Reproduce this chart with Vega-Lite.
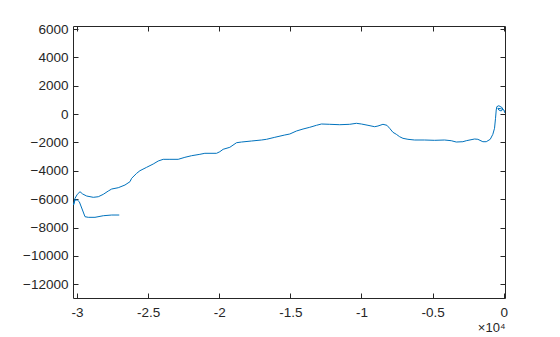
{
  "$schema": "https://vega.github.io/schema/vega-lite/v6.json",
  "width": 432,
  "height": 272,
  "autosize": {"type": "none"},
  "padding": {"left": 73, "top": 26, "right": 55, "bottom": 39},
  "background": "white",
  "config": {
    "view": {"stroke": "#262626", "strokeWidth": 1},
    "axis": {
      "domain": false,
      "grid": false,
      "ticks": true,
      "tickColor": "#262626",
      "tickSize": 5,
      "tickWidth": 1,
      "offset": -5,
      "zindex": 1,
      "labelColor": "#262626",
      "labelFont": "Liberation Sans",
      "labelFontSize": 13.5,
      "titleFont": "Liberation Sans",
      "titleColor": "#262626",
      "titleFontWeight": "normal"
    }
  },
  "data": {"values": [
    {"i": 1, "x": -27028, "y": -7115},
    {"i": 2, "x": -27561, "y": -7115},
    {"i": 3, "x": -28151, "y": -7165},
    {"i": 4, "x": -28734, "y": -7278},
    {"i": 5, "x": -29205, "y": -7278},
    {"i": 6, "x": -29436, "y": -7235},
    {"i": 7, "x": -29668, "y": -6622},
    {"i": 8, "x": -29837, "y": -6178},
    {"i": 9, "x": -29977, "y": -6058},
    {"i": 10, "x": -30138, "y": -6058},
    {"i": 11, "x": -30244, "y": -6410},
    {"i": 12, "x": -30138, "y": -5938},
    {"i": 13, "x": -29977, "y": -5656},
    {"i": 14, "x": -29787, "y": -5472},
    {"i": 15, "x": -29598, "y": -5635},
    {"i": 16, "x": -29317, "y": -5776},
    {"i": 17, "x": -28854, "y": -5867},
    {"i": 18, "x": -28502, "y": -5825},
    {"i": 19, "x": -28151, "y": -5656},
    {"i": 20, "x": -27800, "y": -5423},
    {"i": 21, "x": -27561, "y": -5282},
    {"i": 22, "x": -27098, "y": -5190},
    {"i": 23, "x": -26627, "y": -5000},
    {"i": 24, "x": -26276, "y": -4767},
    {"i": 25, "x": -26157, "y": -4527},
    {"i": 26, "x": -25806, "y": -4175},
    {"i": 27, "x": -25574, "y": -3991},
    {"i": 28, "x": -25104, "y": -3752},
    {"i": 29, "x": -24640, "y": -3519},
    {"i": 30, "x": -24289, "y": -3307},
    {"i": 31, "x": -23938, "y": -3188},
    {"i": 32, "x": -23468, "y": -3188},
    {"i": 33, "x": -22885, "y": -3188},
    {"i": 34, "x": -22414, "y": -3047},
    {"i": 35, "x": -21944, "y": -2934},
    {"i": 36, "x": -21361, "y": -2835},
    {"i": 37, "x": -21010, "y": -2764},
    {"i": 38, "x": -20188, "y": -2764},
    {"i": 39, "x": -19957, "y": -2652},
    {"i": 40, "x": -19725, "y": -2482},
    {"i": 41, "x": -19254, "y": -2341},
    {"i": 42, "x": -18784, "y": -2017},
    {"i": 43, "x": -18433, "y": -1968},
    {"i": 44, "x": -17731, "y": -1897},
    {"i": 45, "x": -17028, "y": -1826},
    {"i": 46, "x": -16677, "y": -1777},
    {"i": 47, "x": -16094, "y": -1636},
    {"i": 48, "x": -15392, "y": -1474},
    {"i": 49, "x": -15041, "y": -1403},
    {"i": 50, "x": -14571, "y": -1192},
    {"i": 51, "x": -14107, "y": -1051},
    {"i": 52, "x": -13637, "y": -931},
    {"i": 53, "x": -13166, "y": -790},
    {"i": 54, "x": -12815, "y": -698},
    {"i": 55, "x": -12232, "y": -719},
    {"i": 56, "x": -11530, "y": -748},
    {"i": 57, "x": -10828, "y": -719},
    {"i": 58, "x": -10357, "y": -649},
    {"i": 59, "x": -10006, "y": -698},
    {"i": 60, "x": -9543, "y": -790},
    {"i": 61, "x": -9072, "y": -889},
    {"i": 62, "x": -8841, "y": -839},
    {"i": 63, "x": -8490, "y": -719},
    {"i": 64, "x": -8209, "y": -790},
    {"i": 65, "x": -8019, "y": -1001},
    {"i": 66, "x": -7787, "y": -1283},
    {"i": 67, "x": -7549, "y": -1425},
    {"i": 68, "x": -7317, "y": -1594},
    {"i": 69, "x": -7085, "y": -1707},
    {"i": 70, "x": -6734, "y": -1777},
    {"i": 71, "x": -6264, "y": -1826},
    {"i": 72, "x": -5561, "y": -1826},
    {"i": 73, "x": -4859, "y": -1848},
    {"i": 74, "x": -4157, "y": -1826},
    {"i": 75, "x": -3687, "y": -1876},
    {"i": 76, "x": -3335, "y": -1968},
    {"i": 77, "x": -2872, "y": -1946},
    {"i": 78, "x": -2633, "y": -1876},
    {"i": 79, "x": -2050, "y": -1756},
    {"i": 80, "x": -1819, "y": -1777},
    {"i": 81, "x": -1468, "y": -1946},
    {"i": 82, "x": -1229, "y": -1946},
    {"i": 83, "x": -948, "y": -1777},
    {"i": 84, "x": -765, "y": -1425},
    {"i": 85, "x": -646, "y": -1001},
    {"i": 86, "x": -576, "y": -296},
    {"i": 87, "x": -527, "y": 289},
    {"i": 88, "x": -485, "y": 522},
    {"i": 89, "x": -344, "y": 592},
    {"i": 90, "x": -105, "y": 451},
    {"i": 91, "x": -63, "y": 338},
    {"i": 92, "x": -176, "y": 219},
    {"i": 93, "x": -344, "y": 289},
    {"i": 94, "x": -414, "y": 409},
    {"i": 95, "x": -200, "y": 380},
    {"i": 96, "x": 20, "y": 289},
    {"i": 97, "x": 70, "y": 90}
  ]},
  "layer": [
    {
      "mark": {"type": "line", "color": "#0072BD", "strokeWidth": 1, "clip": true},
      "encoding": {
        "order": {"field": "i", "type": "quantitative"},
        "x": {
          "field": "x", "type": "quantitative",
          "scale": {"domain": [-30280, 90], "nice": false, "zero": false},
          "axis": {
            "orient": "bottom",
            "values": [-30000, -25000, -20000, -15000, -10000, -5000, 0],
            "labelExpr": "datum.value / 10000",
            "labelPadding": 7,
            "title": "×10⁴",
            "titleAnchor": "end",
            "titleAlign": "right",
            "titleFontSize": 13,
            "titlePadding": 3
          }
        },
        "y": {
          "field": "y", "type": "quantitative",
          "scale": {"domain": [-12966, 6212], "nice": false, "zero": false},
          "axis": {
            "orient": "left",
            "values": [-12000, -10000, -8000, -6000, -4000, -2000, 0, 2000, 4000, 6000],
            "format": "d",
            "labelPadding": 5,
            "title": null
          }
        }
      }
    },
    {
      "mark": {"type": "point", "opacity": 0},
      "encoding": {
        "x": {
          "field": "x", "type": "quantitative",
          "axis": {
            "orient": "top",
            "values": [-30000, -25000, -20000, -15000, -10000, -5000, 0],
            "labels": false,
            "title": null
          }
        },
        "y": {
          "field": "y", "type": "quantitative",
          "axis": {
            "orient": "right",
            "values": [-12000, -10000, -8000, -6000, -4000, -2000, 0, 2000, 4000, 6000],
            "labels": false,
            "title": null
          }
        }
      }
    }
  ],
  "resolve": {"axis": {"x": "independent", "y": "independent"}}
}
